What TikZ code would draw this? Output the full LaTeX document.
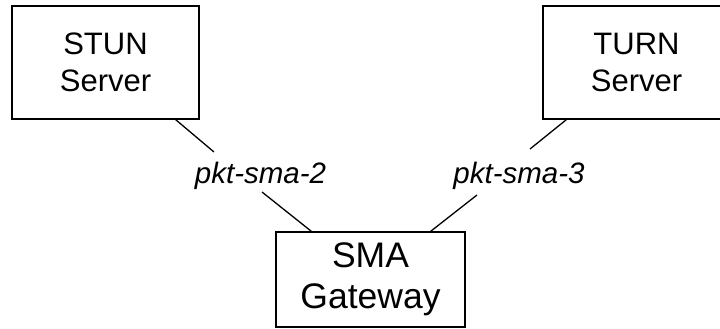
\documentclass[tikz,border=0pt]{standalone}
\usepackage{fontspec}
\setmainfont{Liberation Sans}
\begin{document}
\begin{tikzpicture}[x=1pt,y=-1pt,
  box/.style={draw=black,line width=1.5pt,inner sep=0pt,align=center,
    minimum width=187pt,minimum height=113pt,
    font=\fontsize{31}{36.7}\selectfont},
  link/.style={draw=black,line width=1.3pt},
  linklabel/.style={anchor=base,inner sep=0pt,
    font=\fontsize{29.5}{34}\selectfont\itshape}]
\useasboundingbox (0,0) rectangle (720,329);
\clip (0,0) rectangle (720,329);

% servers and gateway
\node[box] (stun) at (105.5,62.5) {STUN\\Server};
\node[box] (turn) at (636.5,62.5) {TURN\\Server};
\node[box,minimum width=189pt,minimum height=95pt,
  font=\fontsize{35.5}{41}\selectfont] (sma) at (370.5,279.5) {SMA\\Gateway};

% interface labels
\node[linklabel] (p2) at (260.5,183) {pkt-sma-2};
\node[linklabel] (p3) at (519,183) {pkt-sma-3};

% links, broken around their labels
\coordinate (p2a) at (214,152);
\coordinate (p2b) at (262,192);
\coordinate (p3a) at (530,149);
\coordinate (p3b) at (477,195);

\draw[link] ([xshift=-24pt]stun.south east) -- (p2a);
\draw[link] (p2b) -- ([xshift=36pt]sma.north west);
\draw[link] ([xshift=24pt]turn.south west) -- (p3a);
\draw[link] (p3b) -- ([xshift=-35pt]sma.north east);
\end{tikzpicture}
\end{document}
